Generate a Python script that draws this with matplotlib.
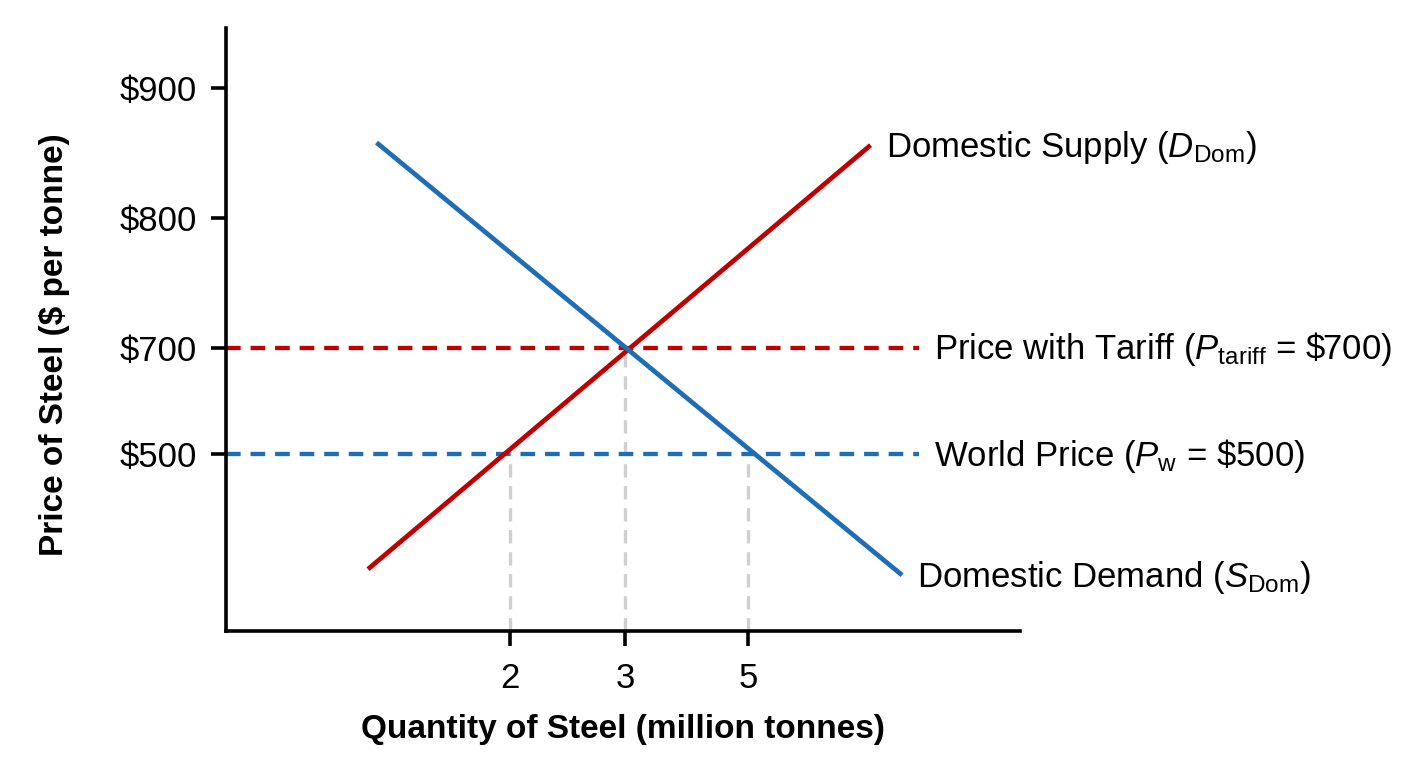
import numpy as np
import matplotlib
matplotlib.use('Agg')
import matplotlib.pyplot as plt

# --- data ---
quantity_ticks = [2, 3, 5]
quantity_tick_labels = ['2', '3', '5']
price_ticks = [500, 700, 800, 900]
price_tick_labels = ['\\$500', '\\$700', '\\$800', '\\$900']

supply_q = [1.0, 7.25]
supply_p = [175, 856]
demand_q = [1.06, 7.83]
demand_p = [858, 158]

world_price = 500
tariff_price = 700
price_line_end_q = 8.14

# dropped guide lines: (quantity, price it reaches up to)
guides_q = [2, 3, 5]
guides_p = [500, 700, 500]

supply_label = r'Domestic Supply ($D_{\mathrm{Dom}}$)'
demand_label = r'Domestic Demand ($S_{\mathrm{Dom}}$)'
tariff_label = r'Price with Tariff ($P_{\mathrm{tariff}}$ = \$700)'
world_label = r'World Price ($P_{\mathrm{w}}$ = \$500)'

RED = '#c00000'
BLUE = '#1f6db5'
GREY = '#d0d0d0'

# schematic (non-linear) axes, piecewise linear between anchors
x_anchor_vals = [0, 2, 3, 5, 10]
x_anchor_pos = [0, 284, 399.3, 522.3, 794]
y_anchor_vals = [0, 500, 700, 800, 900, 950]
y_anchor_pos = [0, 176.7, 283.3, 412.7, 543.3, 603]


def piecewise(vals, pos):
    vals = np.asarray(vals, float)
    pos = np.asarray(pos, float)
    fwd = lambda v: np.interp(v, vals, pos)
    inv = lambda p: np.interp(p, pos, vals)
    return fwd, inv


plt.rcParams['font.family'] = ['Liberation Sans', 'DejaVu Sans']
plt.rcParams['font.size'] = 25
plt.rcParams['mathtext.fontset'] = 'custom'
plt.rcParams['mathtext.rm'] = 'Liberation Sans'
plt.rcParams['mathtext.it'] = 'Liberation Sans:italic'
plt.rcParams['mathtext.bf'] = 'Liberation Sans:bold'

fig = plt.figure(figsize=(14.08, 7.68), dpi=100)
ax = fig.add_axes([226 / 1408, 1 - 631 / 768, 794 / 1408, 603 / 768])
ax.set_xscale('function', functions=piecewise(x_anchor_vals, x_anchor_pos))
ax.set_yscale('function', functions=piecewise(y_anchor_vals, y_anchor_pos))
ax.set_xlim(x_anchor_vals[0], x_anchor_vals[-1])
ax.set_ylim(y_anchor_vals[0], y_anchor_vals[-1])

for q, p in zip(guides_q, guides_p):
    ax.plot([q, q], [0, p], color=GREY, lw=2.4, dashes=(4, 2.6), zorder=1)

ax.plot([0, price_line_end_q], [tariff_price, tariff_price], color=RED, lw=3.1,
        dashes=(3.4, 2.3), zorder=2)
ax.plot([0, price_line_end_q], [world_price, world_price], color=BLUE, lw=3.1,
        dashes=(3.4, 2.3), zorder=2)

ax.plot(supply_q, supply_p, color=RED, lw=3.4, solid_capstyle='butt', zorder=3)
ax.plot(demand_q, demand_p, color=BLUE, lw=3.4, solid_capstyle='butt', zorder=3)

ann = dict(textcoords='offset points', va='center', ha='left', fontsize=25)
ax.annotate(supply_label, xy=(supply_q[-1], supply_p[-1]), xytext=(11, -2), **ann)
ax.annotate(demand_label, xy=(demand_q[-1], demand_p[-1]), xytext=(11, -2), **ann)
ax.annotate(tariff_label, xy=(price_line_end_q, tariff_price), xytext=(11, -1), **ann)
ax.annotate(world_label, xy=(price_line_end_q, world_price), xytext=(11, -1), **ann)

ax.set_xticks(quantity_ticks)
ax.set_xticklabels(quantity_tick_labels)
ax.set_yticks(price_ticks)
ax.set_yticklabels(price_tick_labels)
ax.minorticks_off()

for side in ['top', 'right']:
    ax.spines[side].set_visible(False)
for side in ['left', 'bottom']:
    ax.spines[side].set_linewidth(2.6)
ax.tick_params(axis='both', direction='out', length=11, width=2.6, labelsize=25)
ax.tick_params(axis='y', pad=10)
ax.tick_params(axis='x', pad=11)

ax.set_xlabel('Quantity of Steel (million tonnes)', fontweight='bold', fontsize=24)
ax.set_ylabel('Price of Steel (\\$ per tonne)', fontweight='bold', fontsize=24)
ax.xaxis.set_label_coords(0.5, -0.137)
ax.yaxis.set_label_coords(-0.196, 0.474)

fig.savefig('out.png', dpi=100)
